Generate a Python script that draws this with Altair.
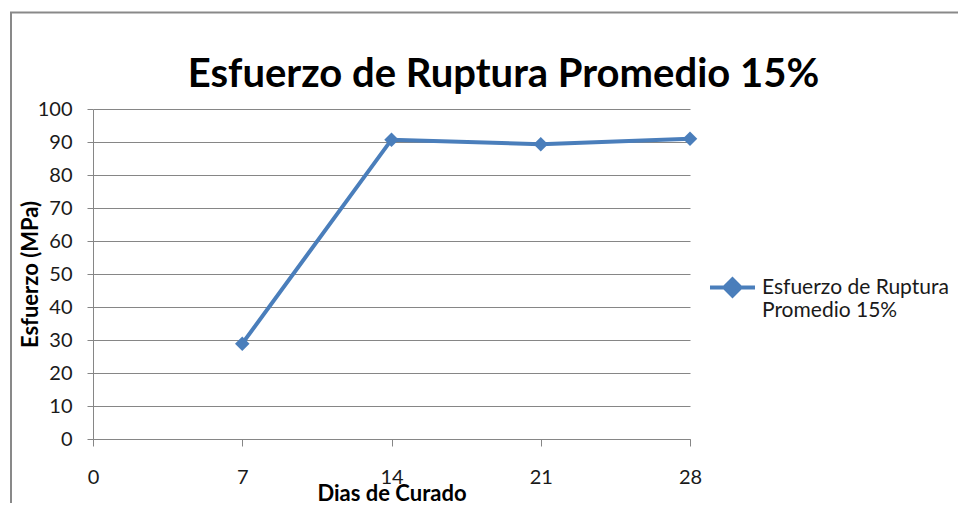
import altair as alt
import pandas as pd

# ---- data ----
dias = [7, 14, 21, 28]
esfuerzo = [28.9, 90.7, 89.3, 91.0]
serie = "Esfuerzo de Ruptura Promedio 15%"
x_ticks = [0, 7, 14, 21, 28]
y_ticks = [0, 10, 20, 30, 40, 50, 60, 70, 80, 90, 100]
titulo = "Esfuerzo de Ruptura Promedio 15%"
x_titulo = "Dias de Curado"
y_titulo = "Esfuerzo (MPa)"

df = pd.DataFrame({"Dias": dias, "Esfuerzo": esfuerzo, "Serie": [serie] * len(dias)})

FONT = "Lato"
BLUE = "#4A7EBB"
GRID = "#868686"
TEXT = "#1a1a1a"

color = alt.Color(
    "Serie:N",
    scale=alt.Scale(range=[BLUE]),
    legend=alt.Legend(
        title=None,
        orient="none",
        legendX=615,
        legendY=154,
        symbolType="M-1,0L1,0M-0.36,0L0,-0.36L0.36,0L0,0.36Z",
        symbolSize=2025,
        symbolStrokeWidth=4,
        symbolFillColor=BLUE,
        symbolStrokeColor=BLUE,
        symbolOpacity=1,
        labelFont=FONT,
        labelFontSize=21,
        labelColor=TEXT,
        labelLimit=400,
        labelOffset=5,
        labelExpr="[substring(datum.label, 0, 19), substring(datum.label, 20)]",
    ),
)

base = alt.Chart(df).encode(
    x=alt.X(
        "Dias:Q",
        scale=alt.Scale(domain=[0, 28], nice=False, zero=True),
        axis=alt.Axis(
            values=x_ticks,
            title=x_titulo,
            grid=False,
            tickSize=7,
            labelPadding=21,
            labelFlush=False,
            titleY=61,
            titleBaseline="alphabetic",
        ),
    ),
    y=alt.Y(
        "Esfuerzo:Q",
        scale=alt.Scale(domain=[0, 100], nice=False),
        axis=alt.Axis(
            values=y_ticks,
            title=y_titulo,
            grid=True,
            tickSize=6,
            labelPadding=15,
            labelFlush=False,
            titleX=-56,
            titleY=165,
            titleBaseline="alphabetic",
        ),
    ),
    color=color,
)

line = base.mark_line(
    strokeWidth=4,
    point=alt.OverlayMarkDef(shape="diamond", size=210, filled=True, color=BLUE, opacity=1),
)

frame = alt.Chart(pd.DataFrame({"f": [0]})).mark_rect(
    fill="transparent", stroke="#898989", strokeWidth=2
).encode(
    x=alt.value(-82), x2=alt.value(1200), y=alt.value(-96.5), y2=alt.value(1200)
)

chart = (
    alt.layer(frame, line)
    .properties(
        width=597,
        height=330,
        autosize=alt.AutoSizeParams(type="none"),
        padding={"left": 85, "top": 101, "right": 268, "bottom": 64},
        title=alt.TitleParams(
            titulo,
            font=FONT,
            fontSize=40,
            fontWeight="bold",
            color="#000000",
            anchor="middle",
            baseline="alphabetic",
            dx=112,
            dy=115,
            offset=0,
        ),
        background="white",
    )
    .configure_view(stroke=None)
    .configure_axis(
        domainColor=GRID,
        tickColor=GRID,
        gridColor=GRID,
        gridWidth=1,
        domainWidth=1,
        labelFont=FONT,
        labelFontSize=20,
        labelColor=TEXT,
        titleFont=FONT,
        titleFontSize=22,
        titleFontWeight="bold",
        titleColor="#000000",
    )
)

chart.save("out.html", embed_options={"renderer": "svg", "actions": False})
